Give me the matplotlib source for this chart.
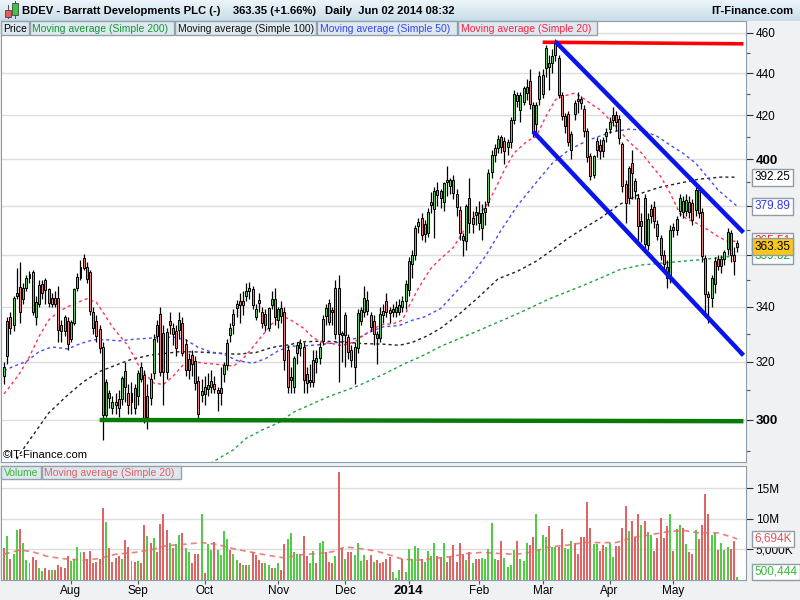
import matplotlib
matplotlib.use('Agg')
import matplotlib.pyplot as plt
import numpy as np
import pandas as pd
from matplotlib.patches import Rectangle
from matplotlib.colors import LinearSegmentedColormap
from matplotlib.transforms import blended_transform_factory

plt.rcParams['font.family'] = ['Liberation Sans', 'DejaVu Sans']

W, H = 800, 600

# ---------------- data ----------------
opens = [315, 322, 336, 333, 344, 347.5, 343, 347, 351, 353,
         336, 341, 348.5, 350, 346.4, 343, 341, 343.3, 333, 331,
         334.5, 328, 334, 347, 351, 358.8, 355, 353, 338, 334.5,
         331.4, 325, 301.8, 309, 304, 306, 307, 307, 316.7, 309,
         306, 310.5, 308, 318, 315, 301, 307.5, 316, 329, 337,
         330, 316.5, 334.5, 332, 331, 331.4, 333.6, 326, 317, 322,
         320, 313, 308.5, 308.6, 310.5, 313, 312, 310, 310.5, 315.6,
         318.8, 329.5, 333, 339.5, 342, 340.5, 344, 346, 346.4, 336.3,
         341.5, 338, 337, 332, 340.5, 342.6, 335, 339.5, 338, 324,
         314.5, 311.2, 323.2, 325, 325, 315.6, 313.4, 312.8, 320, 321.3,
         327.5, 336.5, 341.3, 338.5, 330, 347, 330, 336.7, 328.6, 323.8,
         318, 325, 334.5, 338, 342.3, 336.8, 334.4, 329.6, 328.6, 336.8,
         341.8, 338.5, 338, 338, 340.5, 340, 342, 346.4, 356.4, 360,
         371.5, 375, 372.5, 369, 380.5, 378.7, 386.7, 386, 381.6, 391,
         388.5, 391, 385, 378.3, 367.3, 365.7, 383.4, 372.6, 376.3, 373,
         371, 377.5, 381.6, 394.6, 401.8, 405, 410, 408, 405.6, 407.6,
         418, 429.5, 422.6, 426.2, 430.5, 436, 424.5, 415.8, 427.6, 430,
         442.5, 445, 445, 449, 447.4, 429.6, 415, 420.4, 404.4, 420.5,
         427.5, 427.3, 423, 412.8, 401.3, 393.2, 404, 406.5, 403.6, 410.5,
         413.7, 418, 420, 418.3, 406.9, 389.1, 383.4, 398.2, 390.5, 383.3,
         373.7, 383.3, 364, 375.7, 379.2, 372.3, 366.8, 360, 355, 351.6,
         370, 370, 378, 377.6, 378, 381.5, 381.2, 378.5, 386.8, 377.2,
         358.7, 344.5, 343.2, 348.7, 358.3, 355.6, 358.3, 362.3, 368.8, 360,
         364.5]
highs = [320, 336, 338, 344, 355, 357, 349, 352, 353.5, 354,
         344, 350, 350, 351, 347, 345, 346, 348, 335, 337,
         336, 335, 347, 353, 358, 360.5, 357, 354, 340, 337,
         333, 327, 314, 310, 308, 309, 310, 315, 320, 312,
         313, 312, 317, 320, 317, 312, 316, 330, 335, 340,
         333, 332, 338, 334, 333, 338, 336, 328, 323, 324,
         322, 315, 314, 315, 316, 317, 315, 311, 318, 320,
         328, 334, 339, 342.5, 345, 346, 349, 349.5, 348, 341,
         345, 340, 339, 340, 346, 347, 340, 342, 340, 326,
         318, 322, 327, 328, 327, 318, 319, 324, 324, 327,
         337, 341, 343, 340, 350, 352, 331, 338, 330, 326,
         327, 339, 340, 348, 346, 338, 337, 331, 340, 341,
         345, 340, 341, 342, 343, 344, 350, 359, 362, 372,
         375, 377, 374, 379, 386, 388, 390, 387, 390, 397,
         392, 393, 387, 380, 369, 381, 392, 378, 380, 382,
         381, 382, 396, 404, 407, 411, 411, 410, 409, 419,
         432, 431, 431, 434, 437, 442, 426, 426, 441, 442,
         454, 449, 452, 457, 449, 431, 421, 422, 413, 427,
         431, 429, 425, 414, 403, 402, 410, 409, 410, 414,
         419, 424, 422, 420, 408, 391, 397, 404, 392, 385,
         377, 385, 377, 381, 382, 374, 368, 362, 358, 372,
         373, 376, 385, 384, 385, 384, 383, 388, 389, 379,
         360, 346, 352, 359, 360, 360, 362, 371, 370, 363,
         366]
lows = [312, 319, 330, 331, 343, 334, 341, 346, 349, 337,
        333, 340, 343, 341, 340, 340, 340, 327, 327, 329,
        324, 327, 333, 346, 350, 354, 349, 337, 330, 327,
        323, 293.4, 301, 304, 302, 302, 301, 305, 306, 302,
        302, 302, 305, 313, 299, 297, 305, 314, 327, 315,
        305, 314, 330, 326, 322, 328, 322, 315, 314, 315,
        310, 300, 306, 305, 308, 309, 309, 303, 305, 313,
        317, 327, 330, 336, 334, 337, 342, 343, 339, 335,
        338, 332, 331, 331, 339, 333, 332, 334, 317, 309,
        309, 309, 319, 322, 309, 309, 311, 311, 316, 319,
        326, 333, 333, 333, 328, 313, 320, 318, 321, 318,
        312, 323, 333, 336, 337, 331, 326, 319, 327, 334,
        336, 334, 336, 336, 337, 338, 339, 344, 351, 358,
        369, 366, 365, 367, 377, 366.8, 380, 379, 378, 384,
        385, 383, 376, 366, 359.4, 362, 369, 369, 372, 370,
        366, 372, 380, 392, 399, 403, 403, 398, 402, 405,
        416, 424, 417, 425, 427, 423, 410, 410, 425, 428,
        438, 432, 440, 446, 428, 418, 412, 406, 400, 418,
        421, 423, 410, 399, 391, 392, 401, 400, 401, 408,
        412, 415, 413, 407, 386, 373, 381, 383, 383, 366,
        365, 362, 362, 373, 371, 366, 358, 354, 347, 349,
        367, 368, 376, 375, 376, 375, 372, 376, 375, 357,
        336, 334, 340, 345, 354, 353, 356, 360, 357, 352,
        361]
closes = [318, 334.5, 332, 343, 345, 338, 347, 350.6, 352.5, 338,
          341.5, 348, 345, 346.4, 341.5, 341, 343, 331.4, 331, 336,
          326.4, 334, 346.4, 351.3, 354.9, 354.9, 350.6, 338.4, 332, 329,
          325, 301.8, 312.6, 307.5, 306, 305, 304, 314, 311, 305,
          309, 304, 316, 314, 300.8, 308, 313.6, 328, 333, 316.5,
          316.5, 330.5, 333, 330, 325, 335, 323, 317, 320.6, 319,
          312.5, 302, 309.5, 311, 311.5, 311, 310.5, 309, 309, 318.8,
          326.4, 332, 337, 341, 340.5, 342, 345.6, 347, 340.5, 339,
          342.5, 334, 333, 339.5, 342.6, 336, 339, 336.5, 320.6, 311,
          313.5, 321, 325.6, 326.6, 313.5, 312.5, 313, 320.3, 321, 325,
          335.4, 339.5, 334.4, 338, 347, 330, 329.5, 329.5, 323.5, 320.5,
          325, 337.4, 338.5, 343, 338.4, 332.5, 329.8, 328.6, 337, 338.2,
          338, 337.5, 339, 339.8, 338, 342, 348.5, 357.6, 360, 370.5,
          373, 368, 368.5, 377.4, 381.5, 386, 384.8, 383.5, 389.5, 390,
          391, 385.4, 379.5, 369, 366, 379.8, 373, 375, 377.5, 377,
          377, 379, 394, 401.8, 405, 409, 405.6, 403.6, 407.6, 417.7,
          430, 426.6, 429.5, 432.8, 433.3, 425.5, 411.8, 424.5, 438.5, 439,
          452.3, 443, 448.2, 455.6, 429.6, 419.7, 419.4, 408, 411.4, 425.5,
          426.5, 425.8, 412.7, 401.3, 392.7, 401.3, 408, 403.6, 408.7, 412.3,
          416.9, 420, 417, 409.8, 388.6, 381.2, 395.9, 394.2, 386.2, 371.6,
          371.6, 364.5, 374.6, 378.5, 373.7, 367.4, 360, 356.4, 351, 370,
          371, 374.2, 383.3, 381.8, 382.5, 377.6, 374.2, 386.5, 377.2, 359.4,
          344.9, 343.5, 350.8, 357.3, 355.6, 358.3, 361.1, 369, 360, 357.4,
          363.35]

# volume in millions of shares, and bar colour (g = up, r = down)
volumes_m = [5.25, 7.2, 3.4, 4.2, 8.1, 8.3, 6.1, 3.25, 2.7, 3.8,
             3.25, 2.0, 1.46, 2.0, 1.6, 1.6, 1.6, 2.4, 2.2, 1.9,
             3.95, 3.1, 3.5, 5.4, 4.6, 4.5, 3.5, 4.7, 2.7, 3.0,
             3.5, 11.7, 9.5, 5.25, 3.0, 3.6, 3.95, 3.4, 6.5, 5.4,
             3.1, 3.0, 3.1, 2.7, 8.9, 7.2, 6.1, 6.8, 4.5, 9.1,
             10.7, 8.1, 6.1, 5.25, 5.8, 7.4, 7.6, 5.25, 4.5, 2.7,
             4.2, 4.3, 10.7, 1.1, 5.8, 4.9, 6.2, 4.9, 4.1, 8.0,
             6.7, 4.9, 4.3, 3.25, 2.8, 2.5, 2.5, 2.5, 4.5, 4.1,
             3.25, 2.7, 2.7, 2.4, 1.9, 1.9, 2.7, 1.6, 5.8, 6.7,
             7.7, 4.5, 4.3, 4.3, 7.2, 3.95, 2.7, 4.7, 2.7, 6.0,
             6.3, 4.6, 2.9, 2.7, 3.95, 17.7, 5.25, 3.4, 4.6, 4.6,
             4.1, 6.0, 3.1, 4.1, 3.25, 4.1, 2.9, 3.25, 2.7, 2.9,
             3.4, 3.8, 1.35, 0.3, 1.6, 3.4, 1.25, 5.1, 3.4, 5.6,
             5.25, 3.5, 3.0, 4.7, 3.95, 6.1, 3.95, 3.8, 6.1, 2.9,
             3.8, 5.7, 2.9, 6.1, 4.3, 3.25, 4.6, 2.7, 3.5, 3.4,
             3.6, 3.5, 5.0, 9.3, 3.4, 3.25, 6.3, 3.6, 2.2, 2.5,
             4.9, 6.3, 3.4, 3.1, 6.0, 5.7, 7.0, 10.7, 5.0, 7.3,
             7.0, 8.8, 5.4, 5.4, 5.4, 8.3, 5.25, 5.0, 6.3, 6.1,
             4.2, 7.0, 7.0, 12.8, 8.5, 5.8, 5.8, 4.7, 5.7, 5.4,
             6.1, 3.8, 5.6, 5.6, 8.5, 12.1, 8.0, 9.6, 7.0, 10.7,
             8.9, 9.6, 7.9, 7.4, 4.7, 6.9, 10.1, 6.9, 8.8, 10.8,
             4.7, 8.3, 9.0, 8.5, 5.8, 4.5, 4.2, 8.1, 6.7, 8.9,
             14.1, 10.8, 7.3, 7.7, 4.9, 6.1, 4.9, 5.4, 5.0, 6.3,
             0.500444]
vol_dir = ("rgrggrgggr" "rggrrgrrrr" "rggggrrrrr" "rrgrrrrgrr" "grgrrgrgrr"
           "rrgrggrggr" "rrgrggrggg" "grggrgrgrr" "rrggrggrrg" "ggggrrggrg"
           "grrrgrrgrr" "ggggrrgrrr" "rrgggrgggg" "grggggrrgr" "rrrrrgrgrr"
           "gggggrrggg" "grgggrrggg" "grggrrgggr" "rrrrrggrrg" "ggrrrrgrrr"
           "grggrrrrrg" "rggrgrrgrr" "rrggrgggrr" "g")

# moving averages (trading-day index, value)
ma20_idx = [0, 2, 5, 8, 11, 14, 17, 20, 24, 26, 29, 31, 34, 39, 43, 47, 50, 53, 56, 59,
            63, 67, 72, 75, 78, 81, 84, 87, 90, 94, 97, 100, 103, 106, 110, 113, 116, 119,
            122, 125, 127, 130, 134, 137, 141, 145, 148, 151, 154, 157, 160, 164, 167, 170,
            173, 175, 177, 179, 181, 184, 187, 190, 193, 196, 200, 203, 206, 209, 212, 214,
            217, 221, 224, 227, 230]
ma20_val = [308.8, 311.5, 316, 321.8, 329, 335, 338, 340, 342, 343, 341.6, 338, 332.5, 325.5,
            317, 312.5, 312, 314.8, 318.6, 320, 319.4, 319, 318.4, 321, 325, 329.3, 333.5,
            336.7, 335, 332, 328.5, 326.8, 326.4, 325.7, 327, 329.5, 332, 333.4, 333.6, 335,
            340, 347, 354.8, 358.5, 363, 371.4, 376.3, 379.2, 386.8, 395.4, 402.9, 408, 410.3,
            419.4, 427.2, 428.8, 429.6, 430.4, 428.8, 425.5, 422.6, 418, 413.3, 408, 402.9,
            397.6, 392.6, 385.4, 376.9, 374.8, 373, 370, 367.4, 365.4, 365.51]

ma50_idx = [0, 3, 7, 11, 15, 20, 24, 28, 32, 36, 41, 46, 53, 57, 61, 65, 69, 73, 78, 82,
            86, 90, 93, 99, 106, 111, 116, 119, 124, 128, 132, 137, 146, 151, 156, 161, 167,
            172, 177, 181, 185, 191, 196, 200, 205, 209, 213, 217, 221, 224, 227, 230]
ma50_val = [316.8, 318.3, 320, 323.5, 325.2, 324.5, 326.4, 327.8, 327.8, 327.4, 328, 328.4,
            328.8, 327.8, 325, 323.4, 322.6, 320.4, 319.4, 321, 323.8, 325.5, 325.5, 326, 327,
            328.5, 331.2, 332.5, 333, 334.9, 336.2, 339.3, 351, 359.4, 370, 380, 390, 398.3,
            404, 407, 409.5, 412.5, 413.6, 413.3, 410.3, 406.4, 402.8, 398.4, 391.8, 386.8,
            383.3, 379.89]

ma100_idx = [2, 5, 14, 20, 25, 30, 35, 40, 46, 55, 61, 67, 73, 79, 84, 90, 93, 100, 106,
             113, 119, 124, 128, 133, 137, 143, 149, 155, 161, 167, 172, 177, 181, 187, 193,
             200, 206, 212, 218, 225, 230]
ma100_val = [284, 289, 302.3, 308.4, 313, 316.5, 318.7, 320.8, 322.3, 323.5, 323.4, 323,
             322.6, 323.2, 325, 326.1, 327, 327.3, 327, 326.4, 326.2, 325.8, 326.8, 329.3,
             332, 337.4, 343.7, 350.6, 353.5, 357.5, 362, 366.7, 370, 374.8, 380.5, 385.4,
             388, 389.7, 391.4, 392.3, 392.25]

ma200_idx = [63, 66, 72, 76, 81, 86, 91, 102, 111, 119, 126, 132, 137, 149, 162, 171, 181,
             187, 193, 200, 206, 212, 218, 225, 230]
ma200_val = [285, 286.7, 290.3, 294, 296.7, 299, 302.7, 307.9, 311.5, 315.5, 319.4, 322.4,
             325.4, 331.2, 337.8, 342.9, 347.7, 350.8, 354.1, 356, 356.7, 357.4, 358, 359,
             359.62]

volma_idx = [0, 5, 9, 14, 20, 25, 30, 35, 41, 46, 51, 56, 62, 67, 72, 77, 82, 88, 93, 98,
             103, 107, 112, 117, 122, 125, 130, 135, 140, 145, 150, 156, 161, 166, 171, 177,
             182, 187, 192, 198, 203, 208, 213, 218, 224, 229, 230]
volma_val = [4.2, 4.9, 4.6, 3.8, 3.4, 3.25, 3.5, 4.2, 4.5, 4.9, 5.6, 5.8, 6.1, 5.8, 5.1, 4.6,
             4.1, 3.6, 4.1, 4.3, 4.6, 5.4, 5.1, 4.7, 3.9, 3.4, 3.25, 3.5, 3.8, 4.3, 4.5, 4.3,
             4.2, 4.6, 5.4, 5.7, 6.1, 6.1, 6.1, 7.0, 7.4, 7.85, 8.1, 7.7, 7.7, 6.9, 6.694]

# drawn trend lines: (index, price) endpoints
red_line = ([169, 232], [455.3, 454.5])
green_line = ([30, 232], [300.0, 299.6])
blue_upper = ([173, 232], [455.6, 369.0])
blue_lower = ([166, 232], [412.6, 322.2])

price_ticks = [300, 320, 340, 360, 380, 400, 420, 440, 460]
price_labels = ['300', '320', '340', '', '', '400', '420', '440', '460']
price_minor = [290, 310, 330, 350, 370, 390, 410, 430, 450]
vol_ticks_m = [5, 10, 15]
vol_tick_labels = ['5,000K', '10M', '15M']

month_starts = ['2013-08-01', '2013-09-01', '2013-10-01', '2013-11-01', '2013-12-01',
                '2014-01-01', '2014-02-01', '2014-03-01', '2014-04-01', '2014-05-01']
month_labels = ['Aug', 'Sep', 'Oct', 'Nov', 'Dec', '2014', 'Feb', 'Mar', 'Apr', 'May']
holidays = ['2013-08-26', '2013-12-25', '2013-12-26', '2014-01-01', '2014-04-18',
            '2014-04-21', '2014-05-05', '2014-05-26']

# ---------------- prep ----------------
n = len(closes)
dates = pd.bdate_range('2013-07-03', '2014-06-02', freq='C', holidays=holidays)[:n]
x = np.arange(n)
tick_pos = [int(np.searchsorted(dates.values, np.datetime64(m))) for m in month_starts]

o = np.array(opens); h = np.array(highs); l = np.array(lows); c = np.array(closes)
up = c >= o
CAND_UP, CAND_DN = '#58d058', '#ea7c7c'
VOL_UP, VOL_DN = '#52cc47', '#e06464'
BORDER = '#8c9ca8'


def fbox(x0, y0, x1, y1):
    return [x0 / W, 1 - y1 / H, (x1 - x0) / W, (y1 - y0) / H]


fig = plt.figure(figsize=(W / 100, H / 100), dpi=100, facecolor='#eff1f3')

# title bar
tax = fig.add_axes(fbox(0, 0, 800, 21))
grad = np.linspace(0, 1, 60).reshape(-1, 1)
tax.imshow(grad, aspect='auto', cmap=LinearSegmentedColormap.from_list('t', ['#edf5fa', '#c8dde9']),
           extent=[0, 1, 0, 1])
tax.set_axis_off()
ty = 1 - 10.5 / H
fig.text(22 / W, ty, 'BDEV - Barratt Developments PLC (-)', fontsize=8.1, weight='bold', va='center')
fig.text(233 / W, ty, '363.35 (+1.66%)', fontsize=8.1, weight='bold', va='center')
fig.text(325 / W, ty, 'Daily  Jun 02 2014 08:32', fontsize=8.1, weight='bold', va='center')
fig.text(793 / W, ty, 'IT-Finance.com', fontsize=8.1, weight='bold', va='center', ha='right')
# little candle icon
fig.add_artist(Rectangle((8 / W, 1 - 19 / H), 0.6 / W, 14 / H, transform=fig.transFigure, fc='#555', ec='none'))
fig.add_artist(Rectangle((5 / W, 1 - 17 / H), 6 / W, 7 / H, transform=fig.transFigure, fc='#e35b5b', ec='#444', lw=0.6))
fig.add_artist(Rectangle((15 / W, 1 - 19 / H), 0.6 / W, 18 / H, transform=fig.transFigure, fc='#555', ec='none'))
fig.add_artist(Rectangle((12 / W, 1 - 15 / H), 6 / W, 12 / H, transform=fig.transFigure, fc='#3cc83c', ec='#444', lw=0.6))

# ---------------- price panel ----------------
ax = fig.add_axes(fbox(1, 21, 746, 462))
ax.set_facecolor('white')
ax.set_yscale('log')
ax.set_ylim(286.4, 466.1)
ax.set_xlim(-0.94, 232.8)
for s in ax.spines.values():
    s.set_color(BORDER)
ax.yaxis.tick_right()
ax.set_yticks(price_ticks)
ax.set_yticklabels(price_labels)
ax.set_yticks(price_minor, minor=True)
ax.yaxis.set_minor_formatter(plt.NullFormatter())
ax.tick_params(axis='y', which='major', length=5, width=0.8, color='#333', labelsize=8.5, pad=2)
ax.tick_params(axis='y', which='minor', length=3, width=0.8, color='#555')
for lab, t in zip(ax.get_yticklabels(), price_ticks):
    if t % 100 == 0:
        lab.set_fontweight('bold')
        lab.set_fontsize(9.5)
ax.set_xticks([])
ax.grid(axis='y', which='major', color='#dddddd', lw=1)
ax.set_axisbelow(True)

dash = (0, (2.2, 2.2))
ax.plot(ma200_idx, ma200_val, color='#1fa23c', lw=1, ls=dash, zorder=2)
ax.plot(ma100_idx, ma100_val, color='#222222', lw=1, ls=dash, zorder=2)
ax.plot(ma50_idx, ma50_val, color='#4a4aff', lw=1, ls=dash, zorder=2)
ax.plot(ma20_idx, ma20_val, color='#ff3358', lw=1, ls=dash, zorder=2)

ax.vlines(x, l, h, color='black', lw=0.9, zorder=3)
ax.bar(x, np.abs(c - o) + 0.15, bottom=np.minimum(o, c), width=0.62,
       color=np.where(up, CAND_UP, CAND_DN), edgecolor='black', linewidth=0.7, zorder=4)

ax.plot(*green_line, color='#087a08', lw=3.2, solid_capstyle='butt', zorder=5)
ax.plot(*red_line, color='#ff0000', lw=2.6, solid_capstyle='butt', zorder=5)
ax.plot(*blue_upper, color='#0a14ee', lw=3.2, solid_capstyle='butt', zorder=5)
ax.plot(*blue_lower, color='#0a14ee', lw=3.2, solid_capstyle='butt', zorder=5)

# value boxes on the price scale
tr = blended_transform_factory(fig.transFigure, ax.transData)
def vbox(val, txt, color, fc='white'):
    ax.text(754.5 / W, val, txt, transform=tr, va='center', ha='left', fontsize=8.5, color=color,
            bbox=dict(boxstyle='square,pad=0.2', fc=fc, ec='#8c9ca8', lw=1), clip_on=False, zorder=10)

vbox(ma100_val[-1], '392.25', 'black')
vbox(ma50_val[-1], '379.89', '#3333ff')
vbox(ma20_val[-1], '365.51', '#ff2040')
vbox(ma200_val[-1], '359.62', '#10a040')
vbox(closes[-1], '363.35', 'black', fc='#f7c81a')

fig.text(3 / W, 1 - 455 / H, '©IT-Finance.com', fontsize=8, va='center')

# ---------------- volume panel ----------------
vax = fig.add_axes(fbox(1, 466, 746, 580))
vax.set_facecolor('white')
vax.set_xlim(-0.94, 232.8)
vax.set_ylim(0, 18.6)
for s in vax.spines.values():
    s.set_color(BORDER)
vax.yaxis.tick_right()
vax.set_yticks(vol_ticks_m)
vax.set_yticklabels(vol_tick_labels)
vax.tick_params(axis='y', length=5, width=0.8, color='#333', labelsize=8.5, pad=2)
vax.grid(axis='y', color='#dddddd', lw=1)
vax.set_axisbelow(True)
vcol = [VOL_UP if d == 'g' else VOL_DN for d in vol_dir]
vax.bar(x, volumes_m, width=0.62, color=vcol, edgecolor='none', zorder=2)
vax.plot(volma_idx, volma_val, color='#e86a6a', lw=1.2, ls=(0, (3.5, 2.5)), alpha=0.85, zorder=3)
vax.set_xticks(tick_pos)
vax.set_xticklabels(month_labels)
vax.tick_params(axis='x', length=3, width=0.8, color='#555', labelsize=8.5, pad=0.5)
for lab in vax.get_xticklabels():
    if lab.get_text() == '2014':
        lab.set_fontweight('bold')
        lab.set_fontsize(9.5)

trv = blended_transform_factory(fig.transFigure, vax.transData)
vax.text(754.5 / W, volma_val[-1], '6,694K', transform=trv, va='center', ha='left', fontsize=8.5,
         color='#e05050', bbox=dict(boxstyle='square,pad=0.2', fc='white', ec='#8c9ca8', lw=1),
         clip_on=False, zorder=10)
fig.text(754.5 / W, 1 - 572 / H, '500,444', va='center', ha='left', fontsize=8.5, color='#33bb33',
         bbox=dict(boxstyle='square,pad=0.2', fc='white', ec='#8c9ca8', lw=1), zorder=10)

# ---------------- legend strips ----------------
def legend_box(x0, y0, x1, y1, label, color):
    fig.add_artist(Rectangle((x0 / W, 1 - y1 / H), (x1 - x0) / W, (y1 - y0) / H,
                             transform=fig.transFigure, fc='#dfe8ef', ec='#93a3ae', lw=1, zorder=5))
    fig.text((x0 + 2.5) / W, 1 - ((y0 + y1) / 2 + 0.5) / H, label, color=color, fontsize=7.5,
             va='center', ha='left', zorder=6)

legend_box(1, 21, 29, 35, 'Price', 'black')
legend_box(30, 21, 174, 35, 'Moving average (Simple 200)', '#119933')
legend_box(175, 21, 316, 35, 'Moving average (Simple 100)', '#111111')
legend_box(317, 21, 457, 35, 'Moving average (Simple 50)', '#3344ff')
legend_box(458, 21, 597, 35, 'Moving average (Simple 20)', '#ff2244')
legend_box(1, 466, 41, 479, 'Volume', '#33bb33')
legend_box(42, 466, 181, 479, 'Moving average (Simple 20)', '#e06060')

fig.savefig('out.png', dpi=100, facecolor=fig.get_facecolor())
